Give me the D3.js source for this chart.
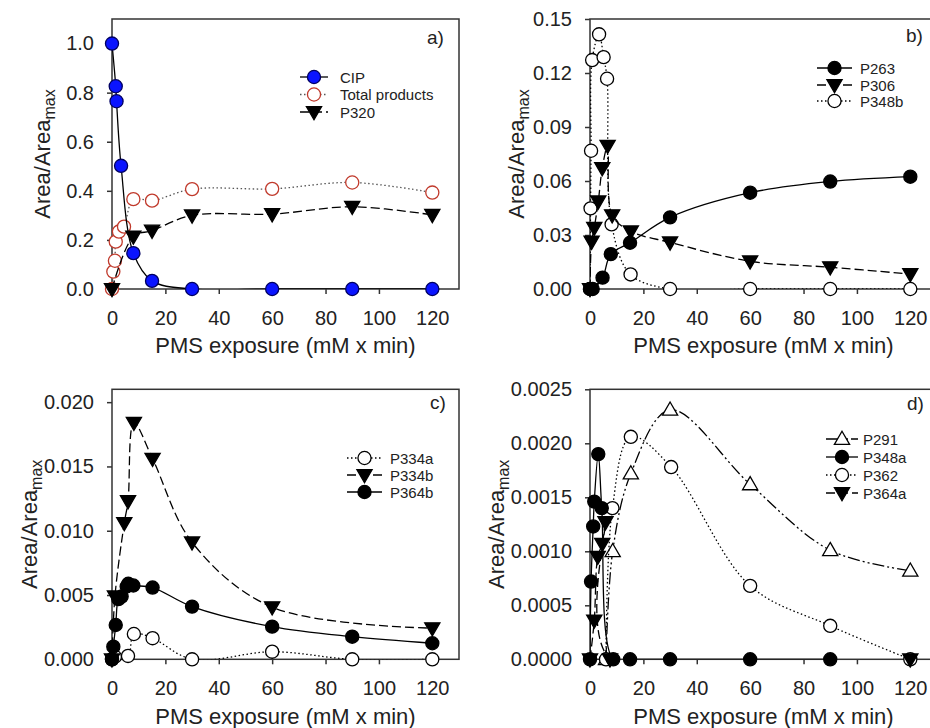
<!DOCTYPE html>
<html>
<head>
    <meta charset="utf-8">
    <title>CIP degradation products</title>
    <style>
        body { margin: 0; background: #fff; }
        svg { font-family: "Liberation Sans", Arial, sans-serif; }
        .frame { fill: none; stroke: #333; stroke-width: 1.5px; }
        .tick text { font-size: 20px; fill: #222; }
        .axis path, .axis line { stroke: #333; stroke-width: 1.5px; }
        .title { font-size: 22px; fill: #222; }
        .legend text { font-size: 15px; fill: #222; }
        .plabel { font-size: 19px; fill: #222; }
    </style>
</head>
<body>
<svg id="chart" width="930" height="728"></svg>
<script src="https://cdnjs.cloudflare.com/ajax/libs/d3/7.8.5/d3.min.js"></script>
<script>
    // ---- values: [PMS exposure, Area/Areamax] ----
    // panel a
    let cip = [[0,1.0],[1.4,0.826],[1.7,0.765],[3.4,0.502],[8,0.146],[15,0.033],[30,0],[60,0],[90,0],[120,0]];
    let totalProducts = [[0,0],[0.5,0.071],[1.1,0.115],[1.4,0.193],[2.6,0.234],[4.5,0.254],[8,0.366],[15,0.36],[30,0.407],[60,0.408],[90,0.434],[120,0.393]];
    let p320 = [[0,0],[8,0.214],[15,0.238],[30,0.30],[60,0.305],[90,0.335],[120,0.302]];
    // panel b
    let p263 = [[0,0],[1,0],[4.7,0.0063],[7.8,0.0194],[15,0.0257],[30,0.0398],[60,0.0535],[90,0.0597],[120,0.0624]];
    let p306 = [[0,0],[0.6,0.0263],[1.6,0.034],[3.1,0.0487],[4.6,0.0672],[6.6,0.0796],[8.3,0.041],[15.3,0.032],[30,0.0259],[60,0.0154],[90,0.0121],[120,0.0083]];
    let p348b = [[0,0],[0.2,0.0448],[0.4,0.0768],[0.8,0.1272],[3.4,0.1415],[5.1,0.1288],[6.4,0.1168],[8.1,0.0359],[15.2,0.0081],[30,0],[60,0],[90,0],[120,0]];
    // panel c
    let p334a = [[0,0],[1.1,0.0002],[6,0.00026],[8.2,0.00197],[15.2,0.00164],[30,0],[60,0.00059],[90,0],[120,0]];
    let p334b = [[0,0],[1.1,0.0049],[4.6,0.0106],[6,0.0123],[8.2,0.0184],[15.2,0.0156],[30,0.0091],[60,0.00405],[120,0.00242]];
    let p364b = [[0,0],[0.5,0.00098],[1.4,0.00267],[2.4,0.00468],[3.6,0.00488],[5.5,0.00566],[6.1,0.00587],[8,0.00574],[15.2,0.00558],[30,0.0041],[60,0.00254],[90,0.00176],[120,0.00125]];
    // panel d
    let p291 = [[6,0],[8.5,0.001],[15.3,0.00172],[30,0.00231],[60,0.00162],[90,0.00101],[120,0.00082]];
    let p348a = [[0,0],[0.4,0.00072],[1.2,0.00123],[1.6,0.00146],[3.1,0.0019],[4.4,0.0014],[8.7,0],[15,0],[30,0],[60,0],[90,0]];
    let p362 = [[6,0],[8.4,0.0014],[15.3,0.00206],[30.4,0.00178],[60,0.00068],[90,0.00031],[120,0]];
    let p364a = [[0,0],[1.6,0.00036],[2.9,0.00095],[4.6,0.00107],[5.8,0.00127],[7.5,0],[120,0]];

    let xTicks = [0, 20, 40, 60, 80, 100, 120];
    let yTicksA = [0, 0.2, 0.4, 0.6, 0.8, 1.0];
    let yTicksB = [0, 0.03, 0.06, 0.09, 0.12, 0.15];
    let yTicksC = [0, 0.005, 0.010, 0.015, 0.020];
    let yTicksD = [0, 0.0005, 0.0010, 0.0015, 0.0020, 0.0025];

    // line styles
    const SOLID = null, DOTTED = '1.5,2.5', DASHED = '9,4', DASHDOT = '12,3,2,3,2,3';

    let panels = [
        { label: 'a)', left: 112, top: 19, ymax: 1.1, yTicks: yTicksA, fmt: '.1f',
          labelPos: [427, 44], xTitleY: 353, yTitleX: 50,
          legend: { x0: 300, x1: 328, tx: 340, y: [77, 94.5, 112] },
          series: [
            { name: 'CIP', data: cip, dash: SOLID, shape: 'circle', fill: '#0a14ff', stroke: '#000060' },
            { name: 'Total products', data: totalProducts, dash: DOTTED, lineColor: '#555', shape: 'circle', fill: '#fff', stroke: '#c0392b' },
            { name: 'P320', data: p320, dash: DASHED, shape: 'down', fill: '#000', stroke: '#000' }
          ], order: [1, 2, 0] },
        { label: 'b)', left: 590, top: 19, ymax: 0.15, yTicks: yTicksB, fmt: '.2f',
          labelPos: [906, 42], xTitleY: 353, yTitleX: 524,
          legend: { x0: 817, x1: 852, tx: 860, y: [68, 85, 101] },
          series: [
            { name: 'P263', data: p263, dash: SOLID, shape: 'circle', fill: '#000', stroke: '#000' },
            { name: 'P306', data: p306, dash: DASHED, shape: 'down', fill: '#000', stroke: '#000' },
            { name: 'P348b', data: p348b, dash: DOTTED, shape: 'circle', fill: '#fff', stroke: '#000' }
          ], order: [2, 1, 0] },
        { label: 'c)', left: 112, top: 389.3, ymax: 0.021, yTicks: yTicksC, fmt: '.3f',
          labelPos: [430, 409], xTitleY: 724, yTitleX: 37,
          legend: { x0: 347, x1: 382, tx: 390, y: [458, 475, 492] },
          series: [
            { name: 'P334a', data: p334a, dash: DOTTED, shape: 'circle', fill: '#fff', stroke: '#000' },
            { name: 'P334b', data: p334b, dash: DASHED, shape: 'down', fill: '#000', stroke: '#000' },
            { name: 'P364b', data: p364b, dash: SOLID, shape: 'circle', fill: '#000', stroke: '#000' }
          ], order: [0, 1, 2] },
        { label: 'd)', left: 590, top: 389.3, ymax: 0.0025, yTicks: yTicksD, fmt: '.4f',
          labelPos: [907, 410], xTitleY: 724, yTitleX: 504,
          legend: { x0: 826, x1: 858, tx: 863, y: [439, 457, 475, 493] },
          series: [
            { name: 'P291', data: p291, dash: DASHDOT, shape: 'up', fill: '#fff', stroke: '#000' },
            { name: 'P348a', data: p348a, dash: SOLID, shape: 'circle', fill: '#000', stroke: '#000' },
            { name: 'P362', data: p362, dash: DOTTED, shape: 'circle', fill: '#fff', stroke: '#000' },
            { name: 'P364a', data: p364a, dash: DASHED, shape: 'down', fill: '#000', stroke: '#000' }
          ], order: [0, 2, 3, 1] }
    ];

    const PW = 347, PH = 270;
    let svg = d3.select('#chart');
    svg.append('rect').attr('width', 930).attr('height', 728).attr('fill', '#fff');

    function symbolPath(shape) {
        if (shape === 'circle') return d3.symbol().type(d3.symbolCircle).size(135)();
        return d3.symbol().type(d3.symbolTriangle).size(100)();
    }

    function drawMarker(g, s, x, y) {
        let rot = s.shape === 'down' ? 180 : 0;
        let dy = s.shape === 'circle' ? 0 : (s.shape === 'down' ? -1 : 1);
        g.append('path')
            .attr('d', symbolPath(s.shape))
            .attr('transform', `translate(${x},${y + dy}) rotate(${rot})`)
            .attr('fill', s.fill)
            .attr('stroke', s.stroke)
            .attr('stroke-width', 1.3);
    }

    panels.forEach((p, i) => {
        let x = d3.scaleLinear().domain([0, 130]).range([p.left, p.left + PW]);
        let y = d3.scaleLinear().domain([0, p.ymax]).range([p.top + PH, p.top]);
        let g = svg.append('g');

        g.append('clipPath').attr('id', 'clip' + i)
            .append('rect').attr('x', p.left).attr('y', p.top).attr('width', PW).attr('height', PH);

        // axes
        g.append('g').attr('class', 'axis')
            .attr('transform', `translate(0,${p.top + PH})`)
            .call(d3.axisBottom(x).tickValues(xTicks).tickSize(5).tickSizeOuter(0).tickPadding(17));
        g.append('g').attr('class', 'axis')
            .attr('transform', `translate(${p.left},0)`)
            .call(d3.axisLeft(y).tickValues(p.yTicks).tickFormat(d3.format(p.fmt)).tickSize(5).tickSizeOuter(0).tickPadding(13));
        g.selectAll('.axis .domain').remove();
        g.append('rect').attr('class', 'frame')
            .attr('x', p.left).attr('y', p.top).attr('width', PW).attr('height', PH);

        // titles
        g.append('text').attr('class', 'title')
            .attr('x', x(65)).attr('y', p.xTitleY).attr('text-anchor', 'middle')
            .text('PMS exposure (mM x min)');
        let yt = g.append('text').attr('class', 'title')
            .attr('transform', `translate(${p.yTitleX},${p.top + PH / 2}) rotate(-90)`)
            .attr('text-anchor', 'middle');
        yt.append('tspan').text('Area/Area');
        yt.append('tspan').attr('dy', '0.3em').style('font-size', '16px').text('max');

        g.append('text').attr('class', 'plabel')
            .attr('x', p.labelPos[0]).attr('y', p.labelPos[1]).text(p.label);

        // series
        let line = d3.line().x(d => x(d[0])).y(d => y(d[1])).curve(d3.curveCatmullRom.alpha(0.5));
        p.order.forEach(k => {
            let s = p.series[k];
            g.append('path')
                .attr('d', line(s.data))
                .attr('clip-path', `url(#clip${i})`)
                .attr('fill', 'none')
                .attr('stroke', s.lineColor || '#000')
                .attr('stroke-width', 1.3)
                .attr('stroke-dasharray', s.dash);
            let mg = g.append('g');
            s.data.forEach(d => drawMarker(mg, s, x(d[0]), y(d[1])));
        });

        // legend
        let lg = g.append('g').attr('class', 'legend');
        p.series.forEach((s, k) => {
            let ly = p.legend.y[k];
            lg.append('line')
                .attr('x1', p.legend.x0).attr('x2', p.legend.x1)
                .attr('y1', ly).attr('y2', ly)
                .attr('stroke', s.lineColor || '#000')
                .attr('stroke-width', 1.3)
                .attr('stroke-dasharray', s.dash);
            drawMarker(lg, s, (p.legend.x0 + p.legend.x1) / 2, ly);
            lg.append('text').attr('x', p.legend.tx).attr('y', ly + 5.5).text(s.name);
        });
    });
</script>
</body>
</html>
